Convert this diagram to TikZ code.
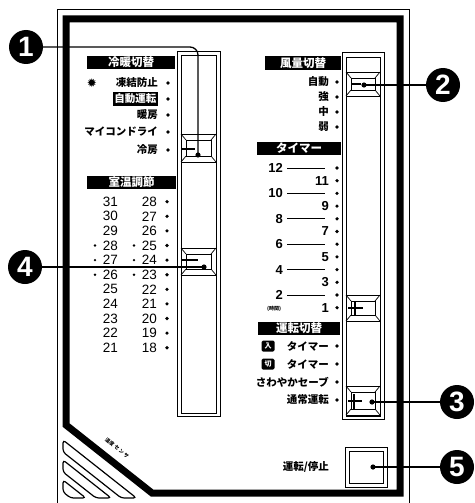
\documentclass[tikz,border=0pt]{standalone}
\usepackage{fontspec}
\setmainfont{Liberation Sans}
\newfontfamily\jp{Noto Sans CJK JP}
\newfontfamily\dvs{DejaVu Sans}
\newcommand{\drawknob}[4]{%
  \draw[fill=white,line width=0.9pt] (#1,#2) rectangle (#3,#4);
  \draw[line width=0.7pt] ({#1+5},{#2+6}) rectangle ({#3-5},{#4-6});
  \draw[line width=0.7pt] (#1,#2) -- ({#1+5},{#2+6}) (#3,#2) -- ({#3-5},{#2+6})
        (#1,#4) -- ({#1+5},{#4-6}) (#3,#4) -- ({#3-5},{#4-6});
}
\begin{document}
\begin{tikzpicture}[x=1pt,y=-1pt,
  hdr/.style={fill=black,text=white,font=\jp\bfseries\fontsize{11.5}{12}\selectfont,inner sep=0pt,minimum height=13pt},
  lbl/.style={font=\jp\bfseries\fontsize{10.5}{11}\selectfont,anchor=east,inner sep=0pt},
  num/.style={font=\fontsize{13.5}{14}\selectfont,anchor=east,inner sep=0pt},
  tnum/.style={font=\bfseries\fontsize{13}{14}\selectfont,anchor=east,inner sep=0pt},
  pt/.style={circle,fill=black,inner sep=0pt,minimum size=3.6pt},
  tagbox/.style={fill=black,text=white,rounded corners=1.5pt,inner sep=0pt,minimum width=13pt,minimum height=11pt,font=\jp\bfseries\fontsize{7}{7}\selectfont},
  callout/.style={circle,fill=black,text=white,inner sep=0pt,minimum size=34pt,font=\bfseries\fontsize{28}{28}\selectfont},
  lead/.style={line width=1.3pt},
  frame/.style={line width=7pt,line join=miter},
]
\useasboundingbox (0,0) rectangle (474,503);
\fill[white] (0,0) rectangle (474,503);

% frames
\draw[line width=1pt] (57,503) -- (57,10) -- (409,10) -- (409,503);
\draw[frame] (66,425) -- (66,19) -- (400,19) -- (400,493) -- (152,493) -- cycle;

% vent stripes
\foreach \t in {440,460,480}{
  \draw[line width=1.2pt,rounded corners=3pt] (63,\t) -- ({63+(498-\t)/0.79},498)
     -- ({63+(486-\t)/0.79},498) -- (63,{\t+12}) -- cycle;
}
\node[font=\jp\bfseries\fontsize{5}{6}\selectfont,rotate=-40,inner sep=0pt] (sens) at (117,448) {温度\hspace{2pt}セ\hspace{1pt}ン\hspace{1pt}サ};

% left channel
\draw[line width=1pt] (177,52) rectangle (220,416);
\draw[line width=0.8pt] (181,55) rectangle (216,413);
% right channel
\draw[line width=1pt] (342,53) rectangle (384,419);
\draw[line width=0.8pt] (346,57) rectangle (380,416);

% knobs
\drawknob{181}{134}{216}{162}
\draw[line width=2.5pt] (182,149) -- (195,149);
\drawknob{181}{248}{216}{275}
\draw[line width=2.5pt] (182,260) -- (198,260);
\drawknob{346}{72}{380}{96}
\draw[line width=2.5pt] (351,84) -- (361,84);
\drawknob{346}{295}{380}{321}
\draw[line width=1.2pt] (348,308) -- (363,308) (355,301) -- (355,315);
\drawknob{346}{386}{380}{415}
\draw[line width=1.2pt] (348,401) -- (362,401) (354,394) -- (354,409);

% run/stop button
\draw[line width=1pt] (345,447) rectangle (387,487);
\draw[line width=0.8pt] (349,451) rectangle (383,483);

% left headers and labels
\node[hdr,minimum width=88pt] (h1) at (131,62.5) {冷暖切替};
\node[font=\dvs\fontsize{12}{12}\selectfont,inner sep=0pt] (l1s) at (92,83) {✹};
\node[lbl] (l1) at (158,83) {凍結防止};
\node[fill=black,text=white,font=\jp\bfseries\fontsize{10.5}{11}\selectfont,inner sep=1.5pt,anchor=east] (l2) at (158,99) {自動運転};
\node[lbl] (l3) at (158,115) {暖房};
\node[lbl] (l4) at (158,132) {マイコンドライ};
\node[lbl] (l5) at (158,150) {冷房};
\foreach \y [count=\i] in {83,99,115,132,150}{\node[pt] (ld\i) at (168,\y) {};}

\node[hdr,minimum width=89pt] (h2) at (131.5,182) {室温調節};
\foreach \k in {0,...,10}{
  \pgfmathsetmacro\yy{201.7+14.6*\k}
  \pgfmathtruncatemacro\L{31-\k}
  \pgfmathtruncatemacro\R{28-\k}
  \node[num] (tl\k) at (118,\yy) {\L};
  \node[num] (tr\k) at (157,\yy) {\R};
  \node[pt] (tdot\k) at (167,\yy) {};
}
\foreach \k in {3,4,5}{
  \pgfmathsetmacro\yy{201.7+14.6*\k}
  \node[pt,minimum size=2.6pt] (ea\k) at (95,\yy) {};
  \node[pt,minimum size=2.6pt] (eb\k) at (134,\yy) {};
}

% right headers and labels
\node[hdr,minimum width=76pt] (h3) at (303,63) {風量切替};
\node[lbl] (r1) at (329,82) {自動};
\node[lbl] (r2) at (329,97) {強};
\node[lbl] (r3) at (329,112) {中};
\node[lbl] (r4) at (329,127) {弱};
\foreach \y [count=\i] in {82,97,112,127}{\node[pt] (rd\i) at (337,\y) {};}

\node[hdr,minimum width=84pt] (h4) at (299,148.5) {タイマー};
\foreach \n [evaluate=\n as \yy using 168+(12-\n)*12.7] in {12,11,...,1}{
  \node[pt] (td\n) at (337,\yy) {};
  \ifodd\n
    \node[tnum] (tn\n) at (329,\yy) {\n};
  \else
    \node[tnum] (tn\n) at (283,\yy) {\n};
    \draw[line width=0.9pt] (287,\yy) -- (325,\yy);
  \fi
}
\node[font=\jp\bfseries\fontsize{5}{5}\selectfont,inner sep=0pt] (jikan) at (274,309) {(時間)};

\node[hdr,minimum width=82pt] (h5) at (299,328.5) {運転切替};
\node[tagbox] (m1t) at (268,346) {入};
\node[lbl] (m1) at (329,346) {タイマー};
\node[tagbox] (m2t) at (268,364) {切};
\node[lbl] (m2) at (329,364) {タイマー};
\node[lbl] (m3) at (329,382) {さわやかセーブ};
\node[lbl] (m4) at (329,400) {通常運転};
\foreach \y [count=\i] in {346,364,382,400}{\node[pt] (md\i) at (337,\y) {};}

\node[lbl] (rs) at (329,467) {運転/停止};

% callouts
\node[callout] (c1) at (26,47) {1};
\node[callout] (c2) at (443,85) {2};
\node[callout] (c3) at (457,402) {3};
\node[callout] (c4) at (25,267) {4};
\node[callout] (c5) at (457,467) {5};

\coordinate (k1) at (198,155);
\coordinate (k2) at (364,85);
\coordinate (k3) at (372,402);
\coordinate (k4) at (204,267);
\coordinate (k5) at (373,467);

\draw[lead,rounded corners=8pt] (c1) -- (198,47) -- (k1);
\draw[lead] (k2) -- (c2);
\draw[lead] (k3) -- (c3);
\draw[lead] (c4) -- (k4);
\draw[lead] (k5) -- (c5);
\foreach \k in {k1,k2,k3,k4,k5}{\fill (\k) circle (2.6pt);}
\end{tikzpicture}
\end{document}
